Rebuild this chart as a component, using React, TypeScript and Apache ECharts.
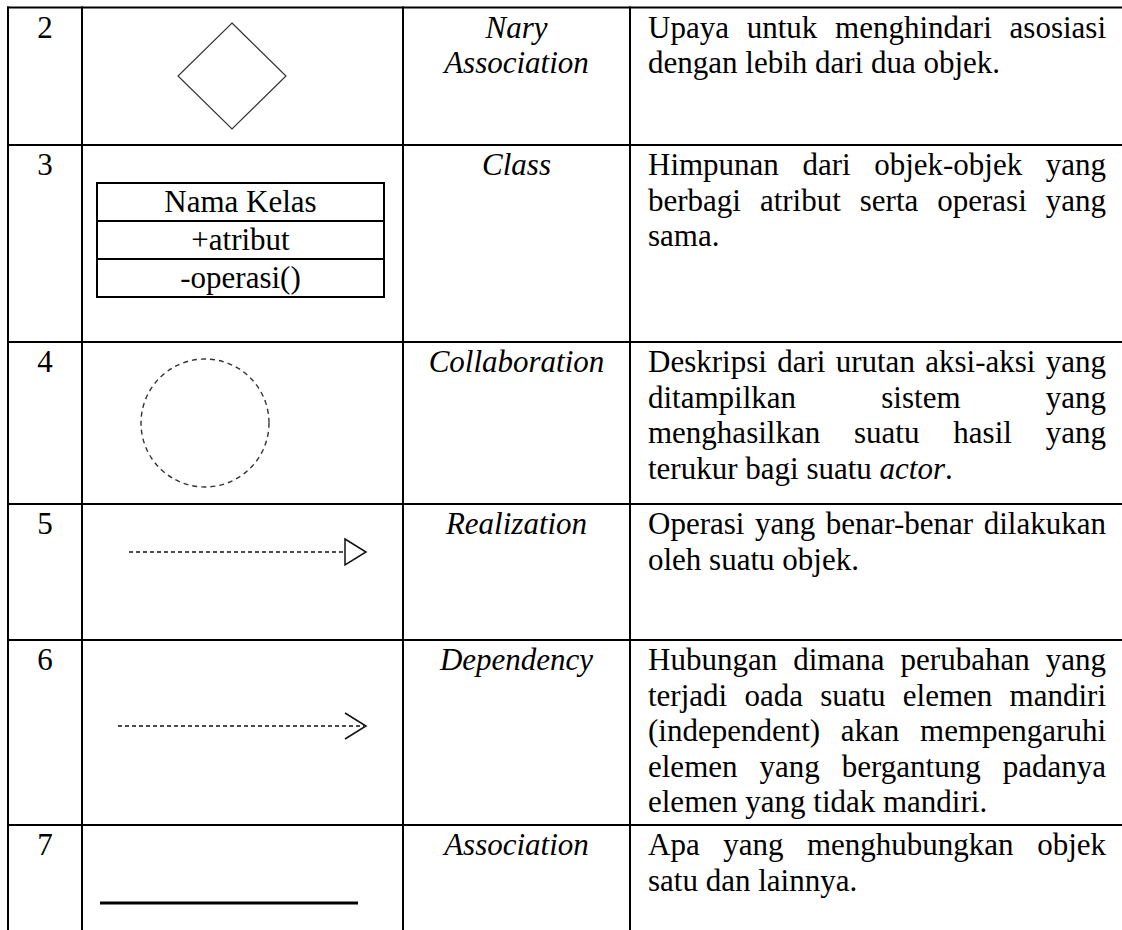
import React, { useEffect, useRef } from "react";
import * as echarts from "echarts";

// ---- table content ----
const rowNumbers = ["2", "3", "4", "5", "6", "7"];
const symbolNames = [
  ["Nary", "Association"],
  ["Class"],
  ["Collaboration"],
  ["Realization"],
  ["Dependency"],
  ["Association"],
];
const descriptions = [
  ["Upaya untuk menghindari asosiasi", "dengan lebih dari dua objek."],
  ["Himpunan dari objek-objek yang", "berbagi atribut serta operasi yang", "sama."],
  [
    "Deskripsi dari urutan aksi-aksi yang",
    "ditampilkan sistem yang",
    "menghasilkan suatu hasil yang",
    "terukur bagi suatu *actor*.",
  ],
  ["Operasi yang benar-benar dilakukan", "oleh suatu objek."],
  [
    "Hubungan dimana perubahan yang",
    "terjadi oada suatu elemen mandiri",
    "(independent) akan mempengaruhi",
    "elemen yang bergantung padanya",
    "elemen yang tidak mandiri.",
  ],
  ["Apa yang menghubungkan objek", "satu dan lainnya."],
];
const classCompartments = ["Nama Kelas", "+atribut", "-operasi()"];

// ---- layout ----
const W = 1122;
const H = 930;
const rowTops = [7.5, 145, 342, 504, 640, 825];
const colX = [8, 82, 403, 630];
const FS = 31;
const FAMILY = "Liberation Serif";
const LINE = 35.6;
const FIRST = 30;
const MID = 10.5; // baseline -> central offset
const DESC_L = 648;
const DESC_R = 1106;

let ctx: CanvasRenderingContext2D | null = null;
function measure(t: string, italic: boolean) {
  if (!ctx) ctx = document.createElement("canvas").getContext("2d");
  ctx!.font = `${italic ? "italic " : ""}${FS}px ${FAMILY}`;
  return ctx!.measureText(t).width;
}

function txt(text: string, x: number, baseline: number, align: string, italic = false, size = FS): any {
  return {
    type: "text",
    x,
    y: baseline - MID * (size / FS),
    silent: true,
    style: {
      text,
      fill: "#000",
      fontSize: size,
      fontFamily: FAMILY,
      fontStyle: italic ? "italic" : "normal",
      align,
      verticalAlign: "middle",
    },
  };
}

function buildElements() {
  const els: any[] = [];
  // grid lines
  rowTops.forEach((y) => {
    els.push({ type: "line", shape: { x1: colX[0] - 1, y1: y, x2: W + 5, y2: y }, style: { stroke: "#000", lineWidth: 2 } });
  });
  colX.forEach((x) => {
    els.push({ type: "line", shape: { x1: x, y1: rowTops[0] - 1, x2: x, y2: H + 5 }, style: { stroke: "#000", lineWidth: 2 } });
  });

  rowNumbers.forEach((n, i) => {
    const top = rowTops[i];
    els.push(txt(n, (colX[0] + colX[1]) / 2, top + FIRST, "center"));
    symbolNames[i].forEach((s, j) => {
      els.push(txt(s, (colX[2] + colX[3]) / 2, top + FIRST + j * LINE, "center", true));
    });
    const lines = descriptions[i];
    lines.forEach((line, j) => {
      const base = top + FIRST + j * LINE;
      const last = j === lines.length - 1;
      if (!last) {
        const words = line.split(" ");
        const ws = words.map((w) => measure(w, false));
        const sum = ws.reduce((a, b) => a + b, 0);
        const gap = words.length > 1 ? (DESC_R - DESC_L - sum) / (words.length - 1) : 0;
        let x = DESC_L;
        words.forEach((w, k) => {
          els.push(txt(w, x, base, "left"));
          x += ws[k] + gap;
        });
      } else {
        const segs = line.split(/(\*[^*]+\*)/).filter((s) => s.length > 0);
        let x = DESC_L;
        segs.forEach((s) => {
          const it = s.startsWith("*");
          const t = it ? s.slice(1, -1) : s;
          els.push(txt(t, x, base, "left", it));
          x += measure(t, it);
        });
      }
    });
  });

  // Row 2: diamond
  els.push({
    type: "polygon",
    shape: { points: [[232, 23], [286, 76], [232, 129], [178, 76]] },
    style: { stroke: "#333", lineWidth: 1.2, fill: "none" },
  });
  // Row 3: class box
  const bx = 97, by = 183, bw = 287, bh = 114;
  els.push({ type: "rect", shape: { x: bx, y: by, width: bw, height: bh }, style: { stroke: "#000", lineWidth: 2, fill: "none" } });
  els.push({ type: "line", shape: { x1: bx, y1: by + 38, x2: bx + bw, y2: by + 38 }, style: { stroke: "#000", lineWidth: 2 } });
  els.push({ type: "line", shape: { x1: bx, y1: by + 76, x2: bx + bw, y2: by + 76 }, style: { stroke: "#000", lineWidth: 2 } });
  classCompartments.forEach((c, k) => {
    els.push(txt(c, bx + bw / 2, by + 29 + k * 38, "center"));
  });
  // Row 4: dashed circle
  els.push({
    type: "circle",
    shape: { cx: 205, cy: 423, r: 64 },
    style: { stroke: "#333", lineWidth: 1.4, lineDash: [5, 4], fill: "none" },
  });
  // Row 5: realization
  els.push({ type: "line", shape: { x1: 129, y1: 552, x2: 345, y2: 552 }, style: { stroke: "#111", lineWidth: 1.5, lineDash: [4, 3] } });
  els.push({
    type: "polygon",
    shape: { points: [[345, 539], [366, 552], [345, 565]] },
    style: { stroke: "#111", lineWidth: 1.5, fill: "none" },
  });
  // Row 6: dependency
  els.push({ type: "line", shape: { x1: 118, y1: 726, x2: 364, y2: 726 }, style: { stroke: "#111", lineWidth: 1.5, lineDash: [4, 3] } });
  els.push({
    type: "polyline",
    shape: { points: [[345, 713], [366, 726], [345, 739]] },
    style: { stroke: "#111", lineWidth: 1.5, fill: "none" },
  });
  // Row 7: association
  els.push({ type: "line", shape: { x1: 100, y1: 903, x2: 358, y2: 903 }, style: { stroke: "#000", lineWidth: 3 } });
  return els;
}

export default function App() {
  const ref = useRef<HTMLDivElement>(null);
  useEffect(() => {
    if (!ref.current) return;
    const chart = echarts.init(ref.current, undefined, { renderer: "svg", width: W, height: H });
    chart.setOption({
      animation: false,
      backgroundColor: "#fff",
      graphic: { elements: buildElements() },
    });
    return () => chart.dispose();
  }, []);
  return (
    <div
      ref={ref}
      style={{ position: "fixed", left: 0, top: 0, width: W, height: H, background: "#fff" }}
    />
  );
}
